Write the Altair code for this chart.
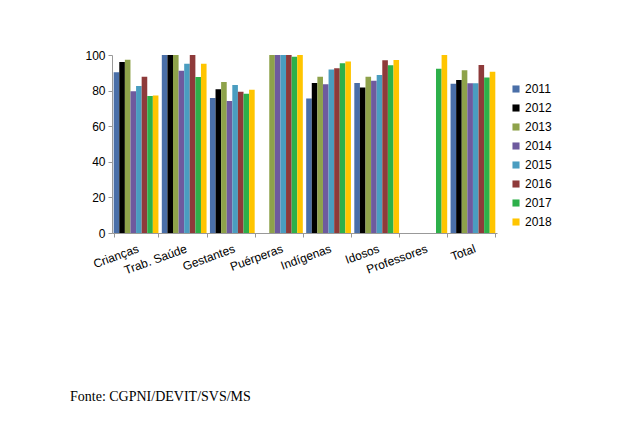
import altair as alt
import pandas as pd

categories = ["Crianças", "Trab. Saúde", "Gestantes", "Puérperas", "Indígenas", "Idosos", "Professores", "Total"]
years = ["2011", "2012", "2013", "2014", "2015", "2016", "2017", "2018"]
colors = ["#4A6FA8", "#000000", "#8EA24A", "#6E5A9E", "#4A9DC0", "#8E3A3A", "#2DB04A", "#FFC500"]

values = {
    "Crianças":    [90.3, 96.1, 97.4, 79.6, 82.6, 87.8, 77.0, 77.3],
    "Trab. Saúde": [100, 100, 100, 91.2, 95.1, 100, 87.6, 95.1],
    "Gestantes":   [75.8, 80.7, 84.8, 74.2, 83.1, 79.4, 78.3, 80.5],
    "Puérperas":   [None, None, 100, 100, 100, 100, 99.0, 100],
    "Indígenas":   [75.5, 84.3, 87.8, 83.5, 91.9, 92.5, 95.3, 96.4],
    "Idosos":      [84.3, 81.8, 87.8, 85.6, 88.8, 97.0, 94.2, 97.2],
    "Professores": [None, None, None, None, None, None, 92.3, 100],
    "Total":       [83.9, 86.0, 91.4, 84.1, 84.1, 94.4, 87.3, 90.6],
}
footnote = "Fonte: CGPNI/DEVIT/SVS/MS"

rows = []
for c in categories:
    for y, v in zip(years, values[c]):
        if v is not None:
            rows.append({"cat": c, "year": y, "value": v})
df = pd.DataFrame(rows)

font = "Liberation Sans"

bars = alt.Chart(df).mark_bar().encode(
    x=alt.X("cat:N", sort=categories, title=None,
            scale=alt.Scale(paddingInner=0.07, paddingOuter=0.035),
            axis=alt.Axis(labelAngle=-20, labelAlign="right", labelBaseline="top",
                          labelPadding=6, tickBand="extent", tickSize=4,
                          domainColor="#999999", tickColor="#999999",
                          labelFont=font, labelFontSize=12, labelColor="#000000")),
    xOffset=alt.XOffset("year:N", sort=years, scale=alt.Scale(domain=years, paddingInner=0, paddingOuter=0)),
    y=alt.Y("value:Q", title=None,
            scale=alt.Scale(domain=[0, 100], nice=False),
            axis=alt.Axis(values=[0, 20, 40, 60, 80, 100], grid=False, tickSize=4,
                          domainColor="#999999", tickColor="#999999",
                          labelFont=font, labelFontSize=12, labelColor="#000000", labelPadding=3)),
    color=alt.Color("year:N", sort=years, scale=alt.Scale(domain=years, range=colors),
                    legend=alt.Legend(title=None, orient="none", legendX=398, legendY=28,
                                      symbolType="square", symbolSize=50, symbolStrokeWidth=0,
                                      labelFont=font, labelFontSize=12, labelColor="#000000",
                                      rowPadding=7, labelOffset=3)),
)

note = alt.Chart(pd.DataFrame({"t": [footnote]})).mark_text(
    align="left", baseline="middle", font="Liberation Serif", fontSize=14, color="#000000"
).encode(text="t:N", x=alt.value(-42), y=alt.value(342))

chart = alt.layer(bars, note).properties(
    width=385, height=178,
    autosize=alt.AutoSizeParams(type="none"),
    padding={"left": 112, "top": 55, "right": 131, "bottom": 192},
).configure_view(stroke=None)

chart.save("out.html", embed_options={"renderer": "svg", "actions": False})
